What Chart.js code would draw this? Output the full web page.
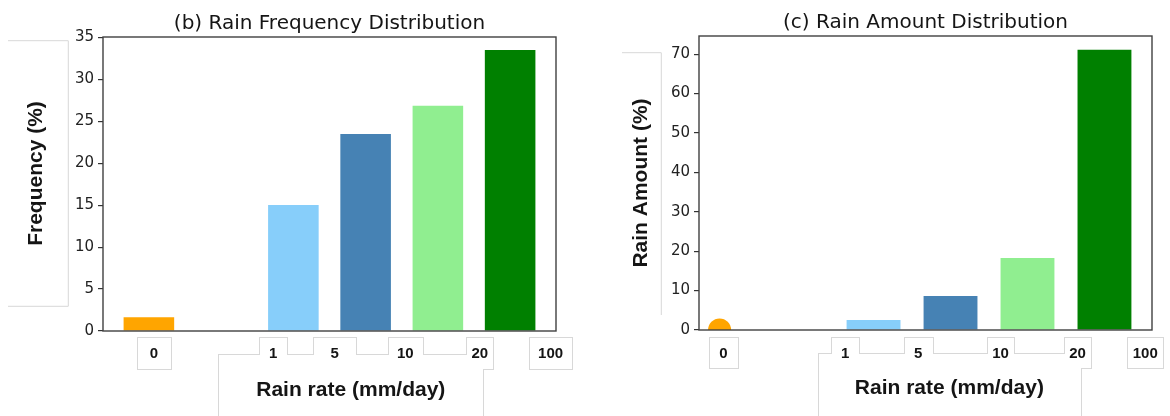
<!DOCTYPE html>
<html>
<head>
<meta charset="utf-8">
<script src="https://cdn.jsdelivr.net/npm/chart.js@4/dist/chart.umd.min.js"></script>
<style>
  html, body { margin: 0; padding: 0; background: #fff; }
  #wrap { position: relative; width: 1170px; height: 416px; overflow: hidden; }
  .panel { position: absolute; top: 0; width: 585px; height: 416px; }
</style>
</head>
<body>
<div id="wrap">
  <div class="panel" style="left:0"><canvas id="freq" width="585" height="416"></canvas></div>
  <div class="panel" style="left:585px"><canvas id="amount" width="585" height="416"></canvas></div>
</div>
<script>
// Rain-rate bin edges (mm/day) shown under the axis
const rateBins = ['0', '1', '5', '10', '20', '100'];
// where each bin-edge label sits along the bar axis
const freqTickAt = [0.07, 1.72, 2.57, 3.55, 4.58, 5.56];
const amountTickAt = [0.05, 1.63, 2.58, 3.65, 4.65, 5.53];

// bar slots: 0 = dry (0 mm/day), 2..5 = rain-rate classes
const freqSlots = [0, 2, 3, 4, 5];
const freqValues = [1.63, 15.03, 23.5, 26.88, 33.52];
const freqColors = ['orange', 'lightskyblue', 'steelblue', 'lightgreen', 'green'];

const amountDrySlot = [0];
const amountDryValue = [0];
const amountSlots = [2, 3, 4, 5];
const amountValues = [2.54, 8.6, 18.3, 71.1];
const amountColors = ['lightskyblue', 'steelblue', 'lightgreen', 'green'];

const BOX_EDGE = '#d8d8d8';
const INK = '#151515';

// per-panel decoration: titles, axis labels and their framed boxes
const decorStyle = {
  freq: {
    title: '(b) Rain Frequency Distribution',
    yLabel: 'Frequency (%)',
    xLabel: 'Rain rate (mm/day)',
    tickAt: freqTickAt,
    tickBoxW: [33.4, 28, 43, 35.4, 26.6, 42.7],
    tickBoxY: [337.3, 369.3],
    tickBaseline: 358,
    xBox: [218.3, 483.3, 354.3, 440],
    xLabelBaseline: 396,
    yBoxPath: [[8, 40.7], [68.3, 40.7], [68.3, 306.3], [8, 306.3]],
    yLabelAt: [36, 173.5]
  },
  amount: {
    title: '(c) Rain Amount Distribution',
    yLabel: 'Rain Amount (%)',
    xLabel: 'Rain rate (mm/day)',
    tickAt: amountTickAt,
    tickBoxW: [28.4, 28.6, 29, 27.6, 26.7, 36],
    tickBoxY: [337.3, 368.3],
    tickBaseline: 357.5,
    xBox: [232.7, 496, 353.3, 440],
    xLabelBaseline: 393.5,
    yBoxPath: [[37, 52.7], [76.3, 52.7], [76.3, 315]],
    yLabelAt: [56.6, 183]
  }
};

const decor = {
  id: 'decor',
  afterDraw(chart) {
    const o = decorStyle[chart.canvas.id];
    const ctx = chart.ctx, a = chart.chartArea, xs = chart.scales.x;
    ctx.save();

    // axes frame (all four spines)
    ctx.strokeStyle = '#404040';
    ctx.lineWidth = 1.4;
    ctx.strokeRect(a.left, a.top, a.right - a.left, a.bottom - a.top);

    // title
    ctx.fillStyle = INK;
    ctx.font = '20px "DejaVu Sans"';
    ctx.textAlign = 'center';
    ctx.textBaseline = 'alphabetic';
    ctx.fillText(o.title, (a.left + a.right) / 2, a.top - 8);

    // frame around the y label
    ctx.strokeStyle = BOX_EDGE;
    ctx.lineWidth = 1;
    ctx.beginPath();
    o.yBoxPath.forEach(([x, y], i) => i ? ctx.lineTo(x, y) : ctx.moveTo(x, y));
    ctx.stroke();

    // y label
    ctx.save();
    ctx.translate(o.yLabelAt[0], o.yLabelAt[1]);
    ctx.rotate(-Math.PI / 2);
    ctx.font = 'bold 21px "Liberation Sans"';
    ctx.textBaseline = 'middle';
    ctx.fillText(o.yLabel, 0, 0);
    ctx.restore();

    // boxed bin-edge labels and x label: outline of their union
    const snap = v => Math.round(v) + 0.5;
    const rects = rateBins.map((t, i) => {
      const cx = xs.getPixelForValue(o.tickAt[i]);
      return { cx, l: cx - o.tickBoxW[i] / 2, r: cx + o.tickBoxW[i] / 2, t: o.tickBoxY[0], b: o.tickBoxY[1] };
    });
    rects.push({ l: o.xBox[0], r: o.xBox[1], t: o.xBox[2], b: o.xBox[3] });
    ctx.strokeStyle = BOX_EDGE;
    rects.forEach(r => ctx.strokeRect(snap(r.l), snap(r.t), snap(r.r) - snap(r.l), snap(r.b) - snap(r.t)));
    ctx.fillStyle = '#fff';
    rects.forEach(r => ctx.fillRect(snap(r.l) + 0.5, snap(r.t) + 0.5, snap(r.r) - snap(r.l) - 1, snap(r.b) - snap(r.t) - 1));

    ctx.fillStyle = INK;
    ctx.textAlign = 'center';
    ctx.textBaseline = 'alphabetic';
    ctx.font = 'bold 15px "Liberation Sans"';
    rateBins.forEach((t, i) => ctx.fillText(t, rects[i].cx, o.tickBaseline));
    ctx.font = 'bold 21px "Liberation Sans"';
    ctx.fillText(o.xLabel, (o.xBox[0] + o.xBox[1]) / 2, o.xLabelBaseline);

    ctx.restore();
  }
};

function panelOptions(xMin, xMax, yMax, yStep, yAxisWidth, pad) {
  return {
    responsive: false,
    animation: false,
    events: [],
    layout: { padding: pad, autoPadding: false },
    plugins: { legend: { display: false }, tooltip: { enabled: false }, title: { display: false } },
    scales: {
      x: {
        type: 'linear', min: xMin, max: xMax, display: false, offset: false,
        grid: { offset: false },
        ticks: { stepSize: 1, includeBounds: false }
      },
      y: {
        min: 0, max: yMax,
        border: { display: false },
        grid: { drawOnChartArea: false, drawTicks: true, tickLength: 5, color: '#333', lineWidth: 1.2 },
        ticks: {
          stepSize: yStep, includeBounds: false, padding: 4,
          color: '#222', font: { family: 'DejaVu Sans', size: 15 }
        },
        afterFit: s => { s.width = yAxisWidth; }
      }
    }
  };
}

new Chart(document.getElementById('freq'), {
  type: 'bar',
  data: {
    datasets: [{
      data: freqSlots.map((x, i) => ({ x, y: freqValues[i] })),
      backgroundColor: freqColors,
      borderWidth: 0,
      barPercentage: 0.7,
      categoryPercentage: 1
    }]
  },
  options: panelOptions(-0.635, 5.635, 35.07, 5, 103, { left: 0, right: 29, top: 37, bottom: 85 }),
  plugins: [decor]
});

new Chart(document.getElementById('amount'), {
  type: 'bar',
  data: {
    datasets: [{
      type: 'scatter',
      data: amountDrySlot.map((x, i) => ({ x, y: amountDryValue[i] })),
      backgroundColor: 'orange',
      pointBackgroundColor: 'orange',
      pointBorderWidth: 0,
      pointRadius: 11.5,
      clip: 0
    }, {
      data: amountSlots.map((x, i) => ({ x, y: amountValues[i] })),
      backgroundColor: amountColors,
      borderWidth: 0,
      barPercentage: 0.7,
      categoryPercentage: 1
    }]
  },
  options: panelOptions(-0.2675, 5.6175, 74.6, 10, 114, { left: 0, right: 18, top: 36, bottom: 86 }),
  plugins: [decor]
});
</script>
</body>
</html>
